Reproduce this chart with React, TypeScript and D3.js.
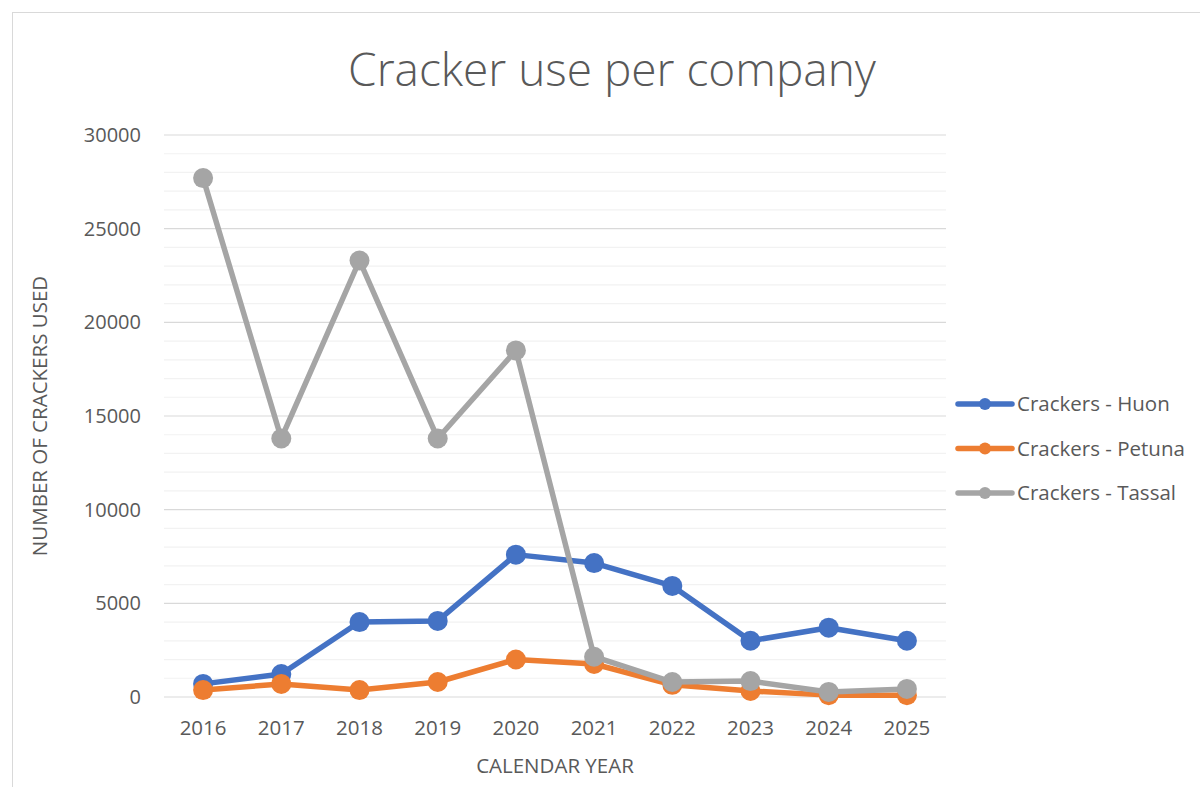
import React, { useEffect, useRef } from 'react';
import * as d3 from 'd3';

// values
const years = ['2016', '2017', '2018', '2019', '2020', '2021', '2022', '2023', '2024', '2025'];
const huon = [700, 1230, 4000, 4060, 7600, 7150, 5930, 3000, 3700, 3000];
const petuna = [370, 700, 370, 800, 2000, 1760, 650, 320, 100, 100];
const tassal = [27700, 13800, 23300, 13800, 18500, 2150, 800, 850, 270, 430];
const seriesNames = ['Crackers - Huon', 'Crackers - Petuna', 'Crackers - Tassal'];
const seriesColors = ['#4472C4', '#ED7D31', '#A5A5A5'];
const yTicks = [0, 5000, 10000, 15000, 20000, 25000, 30000];

const App = () => {
    const ref = useRef<SVGSVGElement>(null);

    useEffect(() => {
        const W = 1200, H = 787;
        const svg = d3.select(ref.current);
        svg.selectAll('*').remove();
        svg.attr('width', W).attr('height', H);

        const font = "'Open Sans', sans-serif";
        const textCol = '#595959';

        svg.append('rect').attr('width', W).attr('height', H).attr('fill', '#fff');
        // chart frame
        svg.append('rect')
            .attr('x', 12.5).attr('y', 12.5)
            .attr('width', 1200).attr('height', 800)
            .attr('fill', 'none').attr('stroke', '#d9d9d9');

        const left = 164, right = 946, top = 135, bottom = 697;

        const x = d3.scaleBand().domain(years).range([left, right]);
        const y = d3.scaleLinear().domain([0, 30000]).range([bottom, top]);

        //minor gridlines every 1000
        svg.append('g').selectAll('line')
            .data(d3.range(1000, 30000, 1000).filter(v => v % 5000 !== 0))
            .enter().append('line')
            .attr('x1', left).attr('x2', right)
            .attr('y1', d => y(d)).attr('y2', d => y(d))
            .attr('stroke', '#f2f2f2').attr('stroke-width', 1.2);

        //major gridlines
        svg.append('g').selectAll('line')
            .data(yTicks)
            .enter().append('line')
            .attr('x1', left).attr('x2', right)
            .attr('y1', d => y(d)).attr('y2', d => y(d))
            .attr('stroke', '#d9d9d9').attr('stroke-width', 1.2);

        //y tick labels
        svg.append('g').selectAll('text')
            .data(yTicks)
            .enter().append('text')
            .attr('x', 141).attr('y', d => y(d))
            .attr('dy', '0.35em')
            .attr('text-anchor', 'end')
            .style('font-family', font).style('font-size', '20px').attr('fill', textCol)
            .text(d => String(d));

        //x tick labels
        svg.append('g').selectAll('text')
            .data(years)
            .enter().append('text')
            .attr('x', d => (x(d) as number) + x.bandwidth() / 2)
            .attr('y', 735)
            .attr('text-anchor', 'middle')
            .style('font-family', font).style('font-size', '20.5px').attr('fill', textCol)
            .text(d => d);

        //title
        svg.append('text')
            .attr('x', 612).attr('y', 86)
            .attr('text-anchor', 'middle')
            .style('font-family', font).style('font-size', '46px').style('font-weight', 300)
            .attr('fill', textCol)
            .text('Cracker use per company');

        //axis titles
        svg.append('text')
            .attr('x', 555).attr('y', 773)
            .attr('text-anchor', 'middle')
            .style('font-family', font).style('font-size', '20.5px').attr('fill', textCol)
            .text('CALENDAR YEAR');

        svg.append('text')
            .attr('transform', 'translate(47,416) rotate(-90)')
            .attr('text-anchor', 'middle')
            .style('font-family', font).style('font-size', '20.5px').attr('fill', textCol)
            .text('NUMBER OF CRACKERS USED');

        const allSeries = [huon, petuna, tassal];
        const line = d3.line<number>()
            .x((_, i) => (x(years[i]) as number) + x.bandwidth() / 2)
            .y(d => y(d));

        allSeries.forEach((vals, si) => {
            const g = svg.append('g');
            g.append('path')
                .datum(vals)
                .attr('d', line)
                .attr('fill', 'none')
                .attr('stroke', seriesColors[si])
                .attr('stroke-width', 5.5)
                .attr('stroke-linejoin', 'round');
            g.selectAll('circle')
                .data(vals)
                .enter().append('circle')
                .attr('cx', (_, i) => (x(years[i]) as number) + x.bandwidth() / 2)
                .attr('cy', d => y(d))
                .attr('r', 10)
                .attr('fill', seriesColors[si]);
        });

        //legend
        const legend = svg.append('g');
        seriesNames.forEach((name, i) => {
            const ly = 404 + i * 44.5;
            legend.append('line')
                .attr('x1', 958).attr('x2', 1012)
                .attr('y1', ly).attr('y2', ly)
                .attr('stroke', seriesColors[i]).attr('stroke-width', 5.5)
                .attr('stroke-linecap', 'round');
            legend.append('circle')
                .attr('cx', 985).attr('cy', ly).attr('r', 6)
                .attr('fill', seriesColors[i]);
            legend.append('text')
                .attr('x', 1017).attr('y', ly)
                .attr('dy', '0.35em')
                .style('font-family', font).style('font-size', '20.5px').attr('fill', textCol)
                .text(name);
        });
    }, []);

    return (
        <div style={{ position: 'absolute', left: 0, top: 0 }}>
            <svg ref={ref} style={{ display: 'block' }}></svg>
        </div>
    );
};

export default App;
